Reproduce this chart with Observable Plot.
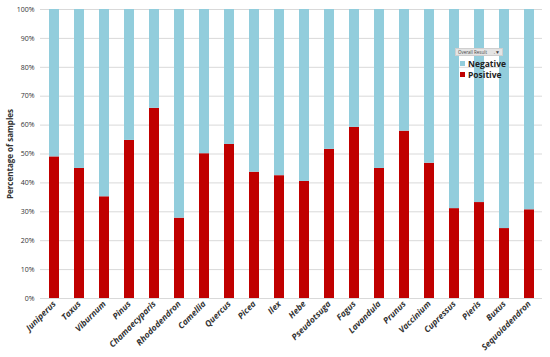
<!DOCTYPE html>
<html>
<head>
<meta charset="utf-8">
<script src="https://cdn.jsdelivr.net/npm/d3@7"></script>
<script src="https://cdn.jsdelivr.net/npm/@observablehq/plot@0.6"></script>
<style>
  html, body { margin: 0; padding: 0; background: #fff; }
  #wrap { position: relative; width: 550px; height: 357px; font-family: "Open Sans", "Liberation Sans", sans-serif; }
  #chart svg { display: block; }
  g[aria-label="x-axis tick label"] text { font-weight: bold; font-style: italic; }
  g[aria-label="y-axis label"] text { font-weight: bold; }
  #legend { position: absolute; left: 455px; top: 48px; font-size: 8.5px; color: #222; }
  #legend .hdr { font-size: 4.5px; color: #444; background: #e4e4e4; border: 1px solid #cfcfcf; padding: 0 2px; width: 42px; height: 6px; line-height: 6px; margin-bottom: 2px; position: relative; white-space: nowrap; overflow: hidden; }
  #legend .hdr span { position: absolute; right: 2px; top: 0; font-size: 5px; }
  #legend .row { display: flex; align-items: center; font-weight: bold; height: 11px; margin-left: 5px; }
  #legend .sw { width: 5px; height: 5px; margin-right: 3px; }
</style>
</head>
<body>
<div id="wrap">
  <div id="chart"></div>
  <div id="legend">
    <div class="hdr">Overall Result <span>.▼</span></div>
    <div class="row"><div class="sw" style="background:#92CDDC"></div>Negative</div>
    <div class="row"><div class="sw" style="background:#C00000"></div>Positive</div>
  </div>
</div>
<script>
const categories = ["Juniperus","Taxus","Viburnum","Pinus","Chamaecyparis","Rhododendron","Camellia","Quercus","Picea","Ilex","Hebe","Pseudotsuga","Fagus","Lavandula","Prunus","Vaccinium","Cupressus","Pieris","Buxus","Sequoiadendron"];
const positive = [49, 45, 35.2, 54.7, 65.8, 27.8, 50.1, 53.3, 43.7, 42.5, 40.5, 51.6, 59.2, 45, 57.9, 46.8, 31.1, 33.2, 24.2, 30.7];
const negative = [51, 55, 64.8, 45.3, 34.2, 72.2, 49.9, 46.7, 56.3, 57.5, 59.5, 48.4, 40.8, 55, 42.1, 53.2, 68.9, 66.8, 75.8, 69.3];
const seriesNames = ["Positive", "Negative"];
const seriesColors = ["#C00000", "#92CDDC"];
const yTicks = [0,10,20,30,40,50,60,70,80,90,100];

const rows = [];
categories.forEach((c, i) => {
  rows.push({genus: c, result: "Positive", value: positive[i]});
  rows.push({genus: c, result: "Negative", value: negative[i]});
});

const chart = Plot.plot({
  width: 550,
  height: 357,
  marginLeft: 40,
  marginRight: 8,
  marginTop: 9,
  marginBottom: 59,
  style: {fontFamily: "'Open Sans', 'Liberation Sans', sans-serif", fontSize: "7px", color: "#333", background: "#fff"},
  x: {domain: categories, paddingInner: 0.62, paddingOuter: 0.3, label: null},
  y: {domain: [0, 100], label: null},
  color: {domain: seriesNames, range: seriesColors},
  marks: [
    Plot.gridY(yTicks, {stroke: "#d9d9d9", strokeOpacity: 1}),
    Plot.barY(rows, Plot.stackY({x: "genus", y: "value", fill: "result", order: seriesNames})),
    Plot.axisY(yTicks, {tickSize: 0, tickPadding: 6, tickFormat: d => d + "%", fontSize: 7, label: "Percentage of samples", labelAnchor: "center", labelOffset: 33, labelArrow: "none"}),
    Plot.axisX({tickSize: 0, tickRotate: -45, tickPadding: 4, fontSize: 8.5, label: null})
  ]
});
chart.querySelectorAll('g[aria-label="y-axis label"] text').forEach(t => { t.style.fontSize = "8px"; });
document.getElementById("chart").appendChild(chart);
</script>
</body>
</html>
